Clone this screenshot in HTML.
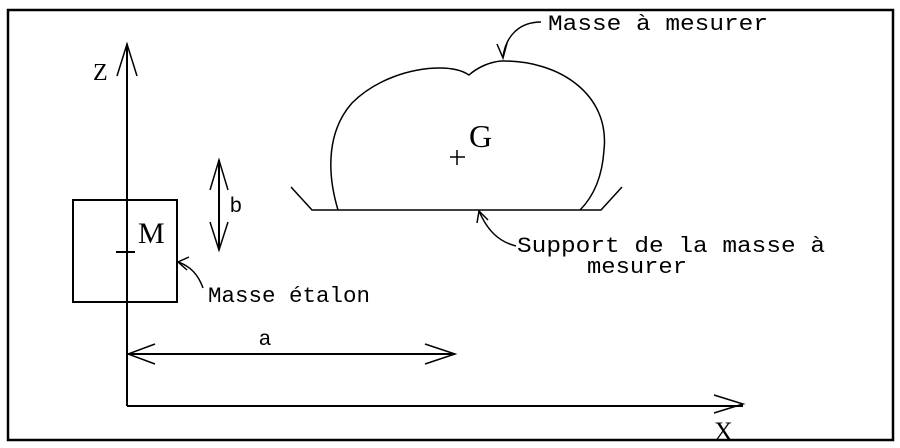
<!DOCTYPE html>
<html><head><meta charset="utf-8"><style>
html,body{margin:0;padding:0;background:#fff;}
svg{display:block;}
.m{font-family:"Liberation Mono","DejaVu Sans Mono",monospace;font-size:22px;}
.s{font-family:"Liberation Serif",serif;}
</style></head><body>
<svg width="900" height="448" viewBox="0 0 900 448" xmlns="http://www.w3.org/2000/svg">
<rect x="8" y="10" width="885" height="430" fill="none" stroke="#000" stroke-width="2.5"/>
<g stroke="#000" fill="none" stroke-width="2">
<line x1="127" y1="44" x2="127" y2="406"/>
<line x1="127" y1="406" x2="743" y2="406"/>
<polyline points="117,76 127,44 137,76" stroke-width="1.5"/>
<polyline points="714,395 743,404 714,413" stroke-width="1.5"/>
<line x1="127" y1="354" x2="455" y2="354"/>
<polyline points="155,344 128,354 155,364" stroke-width="1.5"/>
<polyline points="425,344 455,354 425,364" stroke-width="1.5"/>
<rect x="73" y="200" width="104" height="102"/>
<line x1="116" y1="252" x2="135" y2="252"/>
<line x1="219" y1="160" x2="219" y2="250"/>
<polyline points="210,190 219,160 228,190" stroke-width="1.5"/>
<polyline points="210,222 219,250 228,222" stroke-width="1.5"/>
<g stroke-width="1.5">
<polyline points="291,187 312,210 601,210 622,187"/>
<path d="M338,210 C326,170 328,130 352,103 C375,80 410,68 440,68 C455,68 463,71 469,75 C478,67 490,62 501,61 C560,60 610,95 604,150 C602,180 592,198 580,210"/>
<line x1="457" y1="150" x2="457" y2="165"/>
<line x1="450" y1="157" x2="465" y2="157"/>
<path d="M541,22 C520,22 506,35 503,57"/>
<polyline points="497,44 503,58 507,43"/>
<path d="M516,246 C500,242 488,232 479,211"/>
<polyline points="477,223 479,211 488,220"/>
<path d="M203,288 C198,274 190,266 178,262"/>
<polyline points="189,257 178,262 187,270"/>
</g>
</g>
<text x="93" y="80" class="s" font-size="24">Z</text>
<text x="714" y="440" class="s" font-size="26">X</text>
<text x="138" y="243" class="s" font-size="30">M</text>
<text x="469" y="147" class="s" font-size="32">G</text>
<text x="259" y="345" font-family="Liberation Sans,sans-serif" font-size="21">a</text>
<text x="230" y="212" font-family="Liberation Sans,sans-serif" font-size="21">b</text>
<text x="548" y="30" class="m" textLength="220" lengthAdjust="spacingAndGlyphs">Masse à mesurer</text>
<text x="517" y="252" class="m" textLength="308" lengthAdjust="spacingAndGlyphs">Support de la masse à</text>
<text x="587" y="273" class="m" textLength="100" lengthAdjust="spacingAndGlyphs">mesurer</text>
<text x="208" y="302" class="m" textLength="162" lengthAdjust="spacingAndGlyphs">Masse étalon</text>
</svg>
</body></html>
